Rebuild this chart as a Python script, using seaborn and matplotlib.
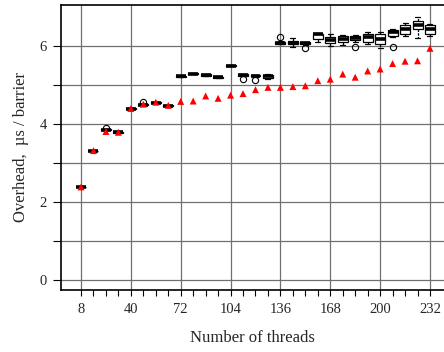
import pandas as pd
import matplotlib
matplotlib.use('Agg')
import matplotlib.pyplot as plt
import seaborn as sns

# thread counts (one box per count)
threads = [8, 16, 24, 32, 40, 48, 56, 64, 72, 80, 88, 96, 104, 112, 120,
           128, 136, 144, 152, 160, 168, 176, 184, 192, 200, 208, 216, 224, 232]

# box statistics (us / barrier)
q1 = [2.37, 3.29, 3.84, 3.77, 4.37, 4.48, 4.53, 4.45, 5.20, 5.27, 5.22, 5.18, 5.48, 5.22, 5.21,
      5.18, 6.05, 6.03, 6.035, 6.17, 6.06, 6.10, 6.14, 6.08, 6.04, 6.25, 6.30, 6.42, 6.30]
med = [2.38, 3.30, 3.85, 3.78, 4.38, 4.49, 4.54, 4.46, 5.21, 5.28, 5.24, 5.19, 5.49, 5.24, 5.22,
       5.21, 6.07, 6.07, 6.06, 6.29, 6.15, 6.17, 6.19, 6.21, 6.16, 6.35, 6.42, 6.53, 6.42]
q3 = [2.39, 3.31, 3.855, 3.79, 4.39, 4.50, 4.55, 4.47, 5.22, 5.29, 5.26, 5.20, 5.50, 5.26, 5.24,
      5.24, 6.10, 6.11, 6.085, 6.31, 6.23, 6.24, 6.24, 6.30, 6.30, 6.40, 6.53, 6.62, 6.53]
lo = [2.36, 3.28, 3.835, 3.76, 4.36, 4.47, 4.52, 4.44, 5.19, 5.26, 5.21, 5.16, 5.47, 5.21, 5.19,
      5.15, 6.03, 5.97, 6.01, 6.09, 6.00, 6.02, 6.10, 6.04, 5.93, 6.22, 6.25, 6.19, 6.25]
hi = [2.40, 3.32, 3.865, 3.80, 4.40, 4.51, 4.56, 4.48, 5.23, 5.30, 5.27, 5.22, 5.51, 5.27, 5.25,
      5.27, 6.11, 6.20, 6.10, 6.32, 6.29, 6.27, 6.27, 6.36, 6.36, 6.42, 6.57, 6.73, 6.56]
outliers = {24: [3.89], 48: [4.55], 112: [5.15], 120: [5.13], 136: [6.21],
            152: [5.93], 184: [5.96], 208: [5.96]}

# red triangles
tri = [2.38, 3.31, 3.80, 3.78, 4.39, 4.50, 4.55, 4.47, 4.57, 4.58, 4.71, 4.65, 4.73, 4.77, 4.87,
       4.93, 4.93, 4.95, 4.97, 5.10, 5.14, 5.27, 5.19, 5.35, 5.40, 5.54, 5.60, 5.61, 5.93]

# rebuild a sample per box that reproduces the read quartiles / whiskers
rows = []
for i, t in enumerate(threads):
    vals = [lo[i]] + [q1[i]] * 5 + [med[i]] * 5 + [q3[i]] * 5 + [hi[i]] + outliers.get(t, [])
    rows += [(t, v) for v in vals]
box_df = pd.DataFrame(rows, columns=['threads', 'overhead'])
tri_df = pd.DataFrame({'threads': threads, 'overhead': tri})

sns.set_style('white')
plt.rcParams['font.family'] = ['Liberation Serif', 'DejaVu Serif']

fig = plt.figure(figsize=(4.44, 3.52), dpi=100)
ax = fig.add_axes([61 / 444, 1 - 290 / 352, (444 - 61) / 444, (290 - 5) / 352])

sns.boxplot(data=box_df, x='threads', y='overhead', native_scale=True, orient='x',
            color='white', linecolor='black', linewidth=0.9, width=0.8, ax=ax,
            medianprops=dict(linewidth=2.6),
            whiskerprops=dict(linestyle=(0, (2, 1))),
            flierprops=dict(marker='o', markersize=4.5, markerfacecolor='none',
                            markeredgecolor='black', markeredgewidth=0.8))
sns.scatterplot(data=tri_df, x='threads', y='overhead', marker='^', color='red',
                s=25, edgecolor='none', zorder=5, ax=ax)

ax.set_xlim(-4.84, 241)
ax.set_ylim(-0.26, 7.04)
ax.set_xticks(range(8, 233, 32))
ax.set_xticks([t for t in threads if (t - 8) % 32], minor=True)
ax.set_yticks(range(0, 7))
ax.set_yticklabels(['0', '', '2', '', '4', '', '6'])
ax.grid(True, which='major', color='#707070', linewidth=0.9)
ax.set_axisbelow(True)

ax.tick_params(axis='x', which='both', direction='out', length=4.5, width=0.8,
               color='black', labelsize=10.5, pad=5, bottom=True)
ax.tick_params(axis='y', direction='out', length=6, width=0.8, color='black',
               labelsize=10.5, pad=4, left=True)
for side in ['left', 'bottom', 'top']:
    ax.spines[side].set_color('black')
    ax.spines[side].set_linewidth(1.2)
ax.spines['right'].set_visible(False)

ax.set_xlabel('Number of threads', fontsize=12, labelpad=10)
ax.set_ylabel('Overhead,  \u00b5s / barrier', fontsize=12, labelpad=8)

fig.savefig('out.png', dpi=100)
